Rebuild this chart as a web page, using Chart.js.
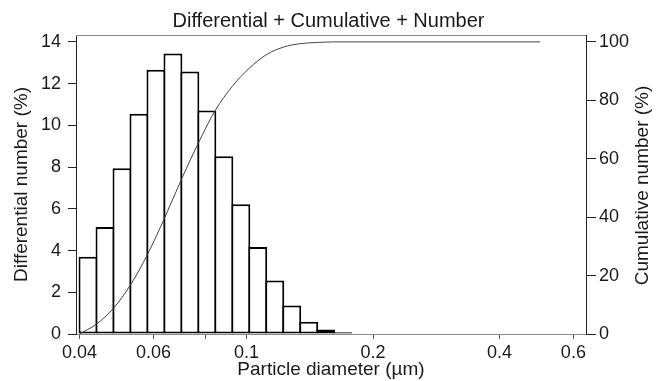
<!DOCTYPE html>
<html><head><meta charset="utf-8">
<script src="https://cdn.jsdelivr.net/npm/chart.js@4.4.1/dist/chart.umd.min.js"></script>
<style>html,body{margin:0;padding:0;background:#fff;}#wrap{width:657px;height:381px;}</style>
</head><body><div id="wrap"><canvas id="c" width="657" height="381"></canvas></div>
<script>
// Bin centres (µm, geometric centres of the size classes)
const binCenters = [0.04191, 0.04600, 0.05049, 0.05541, 0.06082, 0.06676, 0.07327, 0.08042, 0.08827, 0.09689, 0.1063, 0.1167, 0.1281, 0.1406, 0.1543, 0.1694];
// Differential number (%) per class
const differential = [3.7, 5.13, 7.94, 10.55, 12.67, 13.44, 12.58, 10.71, 8.52, 6.22, 4.17, 2.56, 1.36, 0.59, 0.21, 0.08];
// Class edges (µm) and cumulative number (%) at each edge
const edgeDiameters = [0.04, 0.04390, 0.04819, 0.05289, 0.05806, 0.06372, 0.06994, 0.07677, 0.08426, 0.09248, 0.1015, 0.1114, 0.1223, 0.1342, 0.1473, 0.1617, 0.1775, 0.5];
const cumulative = [0, 3.4, 8.8, 16.8, 27.2, 39.6, 52.9, 65.4, 76.6, 84.8, 91.0, 95.6, 98.2, 99.4, 99.8, 100, 100, 100];
// Tick values / labels
const xTicks = [0.04, 0.06, 0.08, 0.1, 0.2, 0.4, 0.6];
const xTickLabels = ['0.04', '0.06', '', '0.1', '0.2', '0.4', '0.6'];
const leftTicks = [0, 2, 4, 6, 8, 10, 12, 14];
const rightTicks = [0, 20, 40, 60, 80, 100];

const FONT = '"Liberation Sans", Arial, Helvetica, sans-serif';
const TXT = '#1a1a1a';

const barData = binCenters.map((x, i) => ({x: x, y: differential[i]}));
const cumData = edgeDiameters.map((x, i) => ({x: x, y: cumulative[i]}));

const extras = {
  id: 'extras',
  afterDraw(chart) {
    const {ctx, chartArea} = chart;
    ctx.save();
    // top frame line
    ctx.strokeStyle = '#8a8a8a';
    ctx.lineWidth = 1;
    ctx.beginPath();
    ctx.moveTo(chartArea.left, chartArea.top + 0.5);
    ctx.lineTo(chartArea.right, chartArea.top + 0.5);
    ctx.stroke();
    // right axis title, reading bottom-to-top
    ctx.fillStyle = TXT;
    ctx.font = '19px ' + FONT;
    ctx.textAlign = 'center';
    ctx.textBaseline = 'middle';
    ctx.translate(643, (chartArea.top + chartArea.bottom) / 2 + 1);
    ctx.rotate(-Math.PI / 2);
    ctx.fillText('Cumulative number (%)', 0, 0);
    ctx.restore();
  }
};

new Chart(document.getElementById('c'), {
  type: 'bar',
  data: {
    datasets: [
      {
        type: 'line',
        data: cumData,
        yAxisID: 'y2',
        borderColor: '#444',
        borderWidth: 1,
        pointRadius: 0,
        cubicInterpolationMode: 'monotone',
        fill: false,
        order: 0
      },
      {
        type: 'bar',
        data: barData,
        yAxisID: 'y',
        backgroundColor: '#ffffff',
        borderColor: '#000000',
        borderWidth: 2,
        borderSkipped: false,
        inflateAmount: 0,
        barPercentage: 1.1176,
        categoryPercentage: 1,
        order: 1
      }
    ]
  },
  options: {
    responsive: false,
    animation: false,
    devicePixelRatio: 1,
    layout: {padding: 0},
    plugins: {
      legend: {display: false},
      tooltip: {enabled: false},
      title: {
        display: true,
        text: 'Differential + Cumulative + Number',
        color: TXT,
        font: {family: FONT, size: 20, weight: 'normal', lineHeight: 1.2},
        padding: {top: 9, bottom: 2}
      }
    },
    scales: {
      x: {
        type: 'logarithmic',
        position: 'bottom',
        min: 0.03924,
        max: 0.643,
        offset: false,
        afterBuildTicks(s) { s.ticks = xTicks.map(v => ({value: v})); },
        afterFit(s) { s.height = 47; },
        ticks: {
          autoSkip: false, maxRotation: 0, padding: 3, color: TXT,
          font: {family: FONT, size: 18},
          callback: (v, i) => xTickLabels[i]
        },
        grid: {display: true, drawOnChartArea: false, offset: false, tickLength: 5, color: '#555', lineWidth: 1},
        border: {display: true, color: '#8a8a8a', width: 1},
        title: {display: true, text: 'Particle diameter (µm)', color: TXT,
          font: {family: FONT, size: 19, lineHeight: 1.2}, padding: {top: 0, bottom: 0}}
      },
      y: {
        type: 'linear',
        position: 'left',
        min: 0,
        max: 14.33,
        afterBuildTicks(s) { s.ticks = leftTicks.map(v => ({value: v})); },
        afterFit(s) { s.width = 76; },
        ticks: {padding: 7, color: TXT, font: {family: FONT, size: 18}},
        grid: {display: true, drawOnChartArea: false, tickLength: 8, color: '#222', lineWidth: 1},
        border: {display: true, color: '#222', width: 1},
        title: {display: true, text: 'Differential number (%)', color: TXT,
          font: {family: FONT, size: 19, lineHeight: 1.2}, padding: {top: 10, bottom: 0}}
      },
      y2: {
        type: 'linear',
        position: 'right',
        min: 0,
        max: 102.36,
        afterBuildTicks(s) { s.ticks = rightTicks.map(v => ({value: v})); },
        afterFit(s) { s.width = 71; },
        ticks: {padding: 3, color: TXT, font: {family: FONT, size: 18}},
        grid: {display: true, drawOnChartArea: false, tickLength: 10, color: '#222', lineWidth: 1},
        border: {display: true, color: '#222', width: 1},
        title: {display: false}
      }
    }
  },
  plugins: [extras]
});
</script>
</body></html>
